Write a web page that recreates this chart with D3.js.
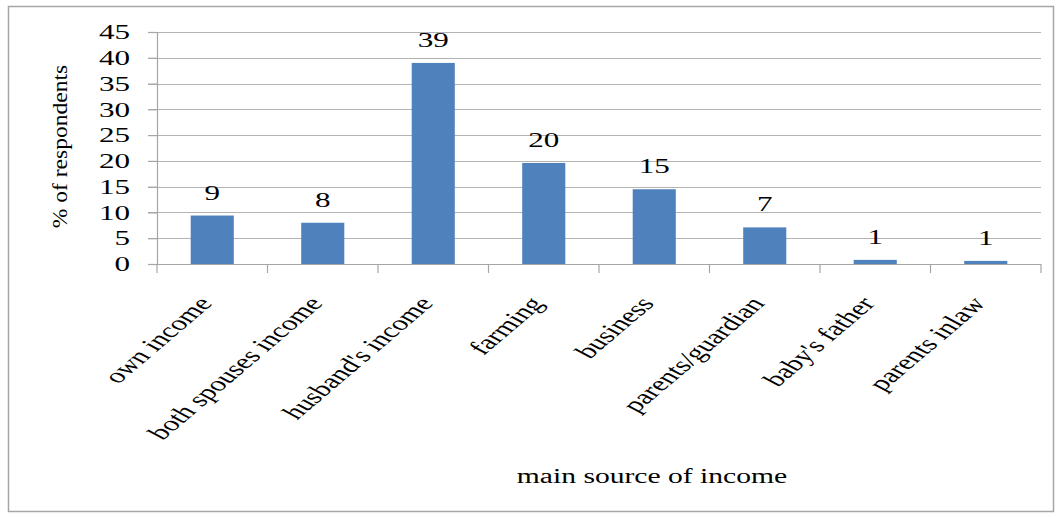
<!DOCTYPE html>
<html><head><meta charset="utf-8">
<script src="https://cdn.jsdelivr.net/npm/d3@7"></script>
<style>body{margin:0;background:#fff}svg{display:block}</style>
</head><body>
<script>
const categories = ["own income","both spouses income","husband's income","farming","business","parents/guardian","baby's father","parents inlaw"];
const values = [9.4, 8.0, 39.0, 19.6, 14.5, 7.1, 0.8, 0.6];
const valueLabels = ["9","8","39","20","15","7","1","1"];
const yTicks = [0,5,10,15,20,25,30,35,40,45];

const W = 1062, H = 517;
const m = {left:157, right:21, top:32, bottom:253};
const SX = 1.48;
const svg = d3.select("body").append("svg").attr("width",W).attr("height",H);
const font = "'Liberation Serif','Times New Roman',serif";

svg.append("rect").attr("x",8.5).attr("y",6.5).attr("width",1045).attr("height",505)
  .attr("fill","#fff").attr("stroke","#a6a6a6").attr("stroke-width",1.5);

const x = d3.scaleBand().domain(categories).range([m.left, W-m.right]).paddingInner(0.61).paddingOuter(0.305);
const y = d3.scaleLinear().domain([0,45]).range([H-m.bottom, m.top]);

// gridlines
svg.append("g").selectAll("line").data(yTicks.filter(d=>d>0)).join("line")
  .attr("x1",m.left-9).attr("x2",W-m.right).attr("y1",d=>Math.round(y(d))+0.5).attr("y2",d=>Math.round(y(d))+0.5)
  .attr("stroke","#b3b3b3").attr("stroke-width",1.2);

// y axis
const ya = svg.append("g").attr("transform",`translate(${m.left},0)`)
  .call(d3.axisLeft(y).tickValues(yTicks).tickSize(9).tickPadding(0));
ya.select(".domain").attr("stroke","#a6a6a6").attr("stroke-width",1.2);
ya.selectAll(".tick line").attr("stroke","#a6a6a6").attr("stroke-width",1.2);
ya.selectAll(".tick text").attr("x",null)
  .attr("transform",`translate(-27,0) scale(${SX},1)`)
  .attr("font-family",font).attr("font-size",21).attr("fill","#000");

// bars
svg.append("g").selectAll("rect").data(values).join("rect")
  .attr("x",(d,i)=>x(categories[i])).attr("width",x.bandwidth())
  .attr("y",d=>y(d)).attr("height",d=>y(0)-y(d)).attr("fill","#4f81bd");

// x axis
const xTickPos = categories.map(c=>x(c)-x.step()*x.paddingInner()/2).concat([W-m.right]);
svg.append("line").attr("x1",m.left).attr("x2",W-m.right).attr("y1",y(0)+0.5).attr("y2",y(0)+0.5)
  .attr("stroke","#a6a6a6").attr("stroke-width",1.2);
svg.append("g").selectAll("line").data(xTickPos).join("line")
  .attr("x1",d=>d).attr("x2",d=>d).attr("y1",y(0)).attr("y2",y(0)+9)
  .attr("stroke","#a6a6a6").attr("stroke-width",1.2);

// x labels
svg.append("g").selectAll("text").data(categories).join("text")
  .attr("transform",c=>`translate(${x(c)+x.bandwidth()/2+1},${y(0)+40}) scale(${SX},1) rotate(-51.5)`)
  .attr("text-anchor","end").attr("font-family",font).attr("font-size",21).attr("fill","#000")
  .text(c=>c);

// value labels
svg.append("g").selectAll("text").data(values).join("text")
  .attr("transform",(d,i)=>`translate(${x(categories[i])+x.bandwidth()/2},${y(d)-16}) scale(${SX},1)`)
  .attr("text-anchor","middle").attr("font-family",font).attr("font-size",21).attr("fill","#000")
  .text((d,i)=>valueLabels[i]);

// axis titles
svg.append("text").attr("transform",`translate(67,146.5) rotate(-90) scale(1.07,1)`).attr("text-anchor","middle")
  .attr("font-family",font).attr("font-size",22).attr("fill","#000").text("% of respondents");
svg.append("text").attr("transform",`translate(652,483) scale(${SX},1)`).attr("text-anchor","middle")
  .attr("font-family",font).attr("font-size",20).attr("fill","#000").text("main source of income");
</script>
</body></html>
